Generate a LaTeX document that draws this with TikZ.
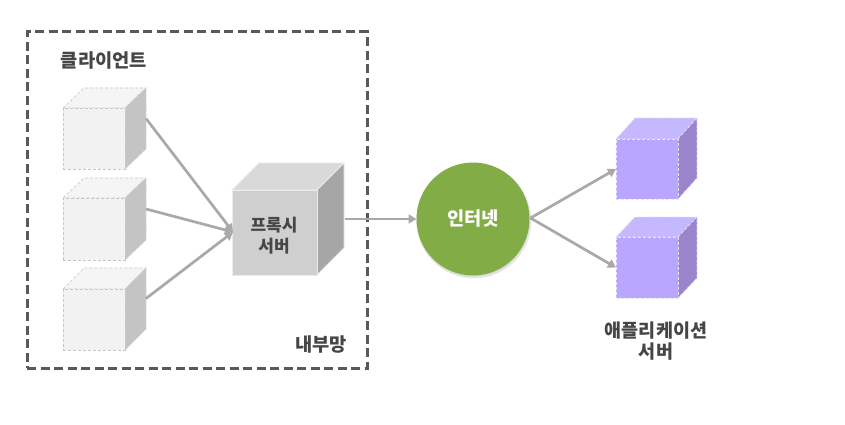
\documentclass[tikz,border=0pt]{standalone}
\usepackage{fontspec}
\setmainfont{Noto Sans CJK KR}[BoldFont={Noto Sans CJK KR Black}]
\usetikzlibrary{arrows.meta}
\definecolor{framegray}{HTML}{595959}
\definecolor{labelgray}{HTML}{464646}
\definecolor{arrowgray}{HTML}{ABA9A7}
\definecolor{greenfill}{HTML}{82AC45}
\definecolor{appfront}{HTML}{B9A7FF}
\definecolor{apptop}{HTML}{C6B8FF}
\definecolor{appside}{HTML}{9A85CC}
\tikzset{
  x=1pt,y=-1pt,
  frame/.style={draw=framegray,line width=3pt,dash pattern=on 9pt off 4.5pt},
  conn/.style={draw=arrowgray,line width=2.7pt,-{Triangle[length=8pt,width=9pt]}},
  lbl/.style={font=\bfseries\fontsize{18.7}{21}\selectfont,text=labelgray,align=center,inner sep=0pt},
  client-front/.style={fill=white!95!black,draw=black!22,line width=.6pt,densely dashed},
  client-top/.style={fill=white!96!black,draw=black!22,line width=.6pt,densely dashed},
  client-side/.style={fill=black!23,draw=black!18,line width=.6pt,densely dashed},
  proxy-front/.style={fill=black!19,draw=white!92!black,line width=.8pt},
  proxy-top/.style={fill=black!15,draw=white!92!black,line width=.8pt},
  proxy-side/.style={fill=black!35,draw=white!92!black,line width=.8pt},
  app-front/.style={fill=appfront,draw=white!70!appfront,line width=.6pt,densely dashed},
  app-top/.style={fill=apptop,draw=white!70!appfront,line width=.6pt,densely dashed},
  app-side/.style={fill=appside,draw=white!70!appfront,line width=.6pt,densely dashed},
}
% name, x, y, w, h, dx, dy, style prefix
\newcommand{\mycube}[8]{%
  \path[#8-top] (#2,#3) -- ++(#6,-#7) -- ++(#4,0) -- ++(-#6,#7) -- cycle;
  \path[#8-side] (#2+#4,#3) -- ++(#6,-#7) -- ++(0,#5) -- ++(-#6,#7) -- cycle;
  \node[#8-front,rectangle,inner sep=0pt,outer sep=0pt,anchor=north west,minimum width=#4pt,minimum height=#5pt] (#1) at (#2,#3) {};
  \coordinate (#1-e) at (#2+#4+#6,#3-#7+0.5*#5);
}
\begin{document}
\begin{tikzpicture}
\useasboundingbox (0,0) rectangle (845,425);
\fill[white] (0,0) rectangle (845,425);

\node[minimum width=340pt,minimum height=336pt,frame,anchor=north west,inner sep=0pt,outer sep=0pt] (lan) at (27,32) {};
\node[lbl] (clientlabel) at (104,60.5) {클라이언트};
\node[lbl] (lanlabel) at (321,344.5) {내부망};

\mycube{c1}{63}{108}{62}{61}{21}{20}{client}
\mycube{c2}{63}{198}{62}{62}{21}{20}{client}
\mycube{c3}{63}{289}{62}{61}{21}{21}{client}
\mycube{proxy}{232}{190}{85}{85}{27}{27}{proxy}
\node[lbl,font=\bfseries\fontsize{17}{21}\selectfont] (proxylabel) at (274,236) {프록시\\서버};

\fill[black!7] (474,221) circle (57.5);
\fill[black!13] (473.5,220.5) circle (57);
\node[circle,fill=greenfill,minimum size=113pt,inner sep=0pt,outer sep=0pt] (net) at (473,219) {};
\node[lbl,text=white] (netlabel) at (473,219) {인터넷};

\mycube{a1}{616}{139}{62}{60}{19}{21}{app}
\mycube{a2}{616}{237}{62}{61}{19}{20}{app}
\node[lbl,font=\bfseries\fontsize{18.5}{21}\selectfont] (applabel) at (656,341.5) {애플리케이션\\서버};

\coordinate (pin) at (233,232);
\draw[conn] (c1-e) -- (pin);
\draw[conn] (c2-e) -- (pin);
\draw[conn] (c3-e) -- (pin);
\draw[conn] (proxy-e) ++(1,13.5) -- (net.west);
\draw[conn] (net.east) ++(1,-1) -- (a1.west);
\draw[conn] (net.east) ++(1,-1) -- (a2.west);
\end{tikzpicture}
\end{document}
